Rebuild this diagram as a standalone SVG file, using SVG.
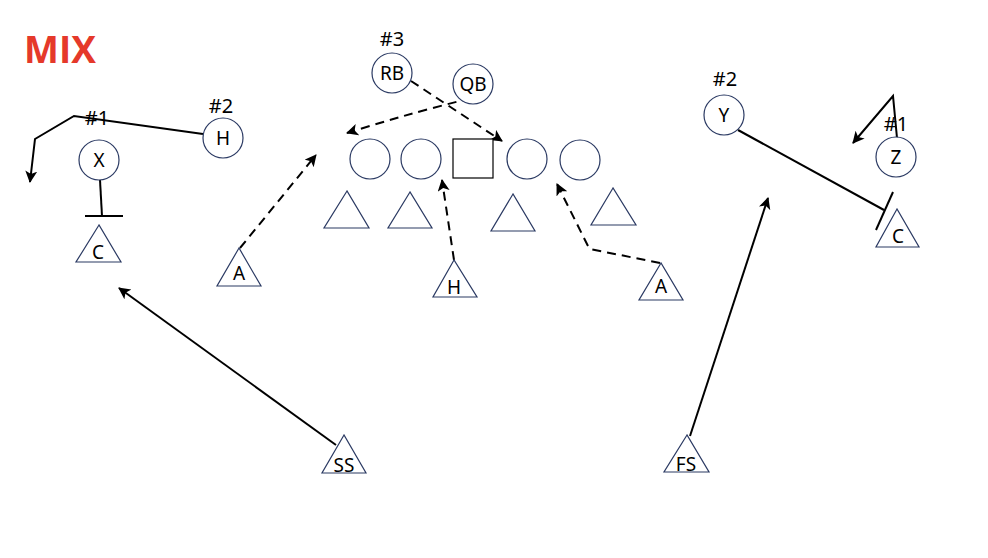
<svg xmlns="http://www.w3.org/2000/svg" width="988" height="558" viewBox="0 0 988 558">
<style>
.p{fill:#fff;stroke:#2b3a63;stroke-width:1.2}
.sq{fill:#fff;stroke:#000;stroke-width:1.2}
.t{font-family:"Noto Sans","Open Sans",sans-serif;font-size:19px;fill:#000;text-anchor:middle}
.n{font-family:"Noto Sans","Open Sans",sans-serif;font-size:20px;fill:#000;text-anchor:middle}
.r{fill:none;stroke:#000;stroke-width:2}
.d{fill:none;stroke:#000;stroke-width:2;stroke-dasharray:9 6}
.title{font-family:"Open Sans","Noto Sans",sans-serif;font-weight:bold;font-size:37px;fill:#e5392a}
</style>
<defs>
<marker id="ah" markerUnits="userSpaceOnUse" markerWidth="14" markerHeight="14" refX="11" refY="6" orient="auto">
<path d="M0,0 L12,6 L0,12 L3,6 z" fill="#000"/>
</marker>
</defs>
<rect width="988" height="558" fill="#fff"/>
<text class="title" x="24" y="63">MIX</text>

<g id="connectors">
<polyline class="r" points="203,134 74,116 35,139 30,182" marker-end="url(#ah)"/>
<line class="r" x1="100" y1="180" x2="102" y2="216"/>
<line class="r" x1="85" y1="216" x2="123" y2="216"/>
<path class="d" d="M411,81 L502,141" marker-end="url(#ah)"/>
<path class="d" d="M485,95 Q420,110 347,133" marker-end="url(#ah)"/>
<path class="d" d="M240,248 L316,155" marker-end="url(#ah)"/>
<path class="d" d="M454,260 L442,180" marker-end="url(#ah)"/>
<path class="d" d="M660,263 L590,249 L588,246 L557,184" marker-end="url(#ah)"/>
<line class="r" x1="738" y1="130" x2="884" y2="210"/>
<line class="r" x1="893" y1="192" x2="876" y2="230"/>
<polyline class="r" points="897,138 893,96 853,143" marker-end="url(#ah)"/>
<line class="r" x1="336" y1="445" x2="119" y2="288" marker-end="url(#ah)"/>
<line class="r" x1="690" y1="436" x2="768" y2="198" marker-end="url(#ah)"/>
</g>

<g id="X"><circle class="p" cx="99" cy="160" r="20"/><text class="t" x="99" y="167">X</text><text class="n" x="97" y="125">#1</text></g>
<g id="H-rec"><circle class="p" cx="223" cy="138" r="20"/><text class="t" x="223" y="145">H</text><text class="n" x="221" y="113">#2</text></g>
<g id="C-left"><polygon class="p" points="99,225 76,262 121,262"/><text class="t" x="98" y="259">C</text></g>
<g id="RB"><circle class="p" cx="392" cy="73" r="20"/><text class="t" x="392" y="80">RB</text><text class="n" x="392" y="46">#3</text></g>
<g id="QB"><circle class="p" cx="473" cy="84" r="20"/><text class="t" x="473" y="91">QB</text></g>
<g id="LT"><circle class="p" cx="370" cy="159" r="20"/></g>
<g id="LG"><circle class="p" cx="421" cy="159" r="20"/></g>
<g id="Ctr"><rect class="sq" x="453" y="139" width="40" height="39"/></g>
<g id="RG"><circle class="p" cx="527" cy="159" r="20"/></g>
<g id="RT"><circle class="p" cx="580" cy="160" r="20"/></g>
<g id="DL1"><polygon class="p" points="347,191 324,228 369,228"/></g>
<g id="DL2"><polygon class="p" points="410,192 388,228 432,228"/></g>
<g id="DL3"><polygon class="p" points="513,194 491,231 535,231"/></g>
<g id="DL4"><polygon class="p" points="613,188 591,225 636,225"/></g>
<g id="A-left"><polygon class="p" points="239,248 217,286 261,286"/><text class="t" x="239" y="280">A</text></g>
<g id="H-def"><polygon class="p" points="454,260 433,297 477,297"/><text class="t" x="454" y="294">H</text></g>
<g id="A-right"><polygon class="p" points="661,263 639,300 683,300"/><text class="t" x="661" y="293">A</text></g>
<g id="Y"><circle class="p" cx="724" cy="115" r="20"/><text class="t" x="724" y="122">Y</text><text class="n" x="725" y="86">#2</text></g>
<g id="Z"><circle class="p" cx="896" cy="157" r="20"/><text class="t" x="896" y="164">Z</text><text class="n" x="896" y="131">#1</text></g>
<g id="C-right"><polygon class="p" points="897,209 876,247 919,247"/><text class="t" x="898" y="243">C</text></g>
<g id="SS"><polygon class="p" points="344,435 322,473 366,473"/><text class="t" x="344" y="472">SS</text></g>
<g id="FS"><polygon class="p" points="687,435 664,472 709,472"/><text class="t" x="686" y="471">FS</text></g>
</svg>
